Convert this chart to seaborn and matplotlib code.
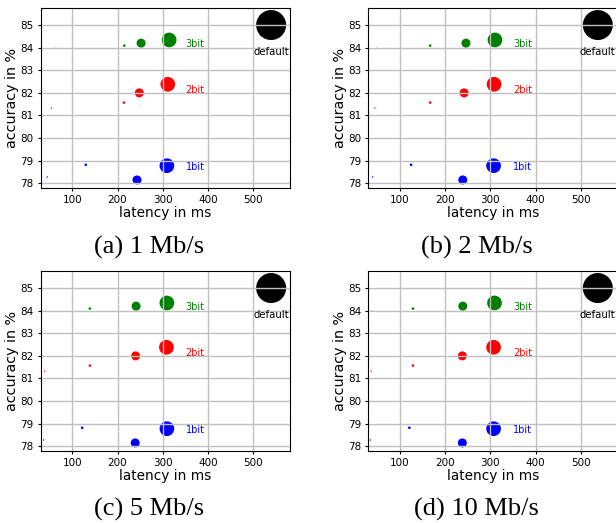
# accuracy vs latency for quantized models at four bandwidths
import numpy as np
import pandas as pd
import seaborn as sns
import matplotlib.pyplot as plt

# DATA
bits = ['1bit', '1bit', '1bit', '1bit',
        '2bit', '2bit', '2bit', '2bit',
        '3bit', '3bit', '3bit', '3bit', 'default']
level = ['tiny', 'small', 'medium', 'large'] * 3 + ['default']
accuracy = [78.28, 78.82, 78.15, 78.78,
            81.32, 81.57, 82.00, 82.38,
            83.97, 84.09, 84.20, 84.34, 85.00]

lat_1mb = [45, 130, 243, 309, 54, 214, 248, 311, 64, 215, 252, 314, 539]
lat_2mb = [40, 125, 239, 307, 45, 167, 242, 308, 49, 167, 246, 310, 537]
lat_5mb = [37, 122, 239, 309, 39, 139, 240, 308, 41, 139, 241, 309, 539]
lat_10mb = [35, 121, 238, 307, 37, 129, 238, 307, 38, 129, 239, 309, 537]

captions = ['(a) 1 Mb/s', '(b) 2 Mb/s', '(c) 5 Mb/s', '(d) 10 Mb/s']
latencies = [lat_1mb, lat_2mb, lat_5mb, lat_10mb]

bit_labels = ['1bit', '2bit', '3bit']
bit_label_y = [78.73, 82.13, 84.16]

palette = {'1bit': 'blue', '2bit': 'red', '3bit': 'green', 'default': 'black'}
sizes = {'tiny': 1.0, 'small': 3.5, 'medium': 42, 'large': 112, 'default': 467}

# FIGURE 616x523 px
fig = plt.figure(figsize=(6.16, 5.23), dpi=100)
W, H = 616, 523
boxes = [(40.7, 8.3), (368.3, 8.3), (40.7, 271.3), (368.3, 271.3)]
aw, ah = 249, 180
caption_pos = [(149, 247), (477, 247), (149, 509), (476, 509)]

for i in range(4):
    x0, y0 = boxes[i]
    ax = fig.add_axes([x0 / W, 1 - (y0 + ah) / H, aw / W, ah / H])
    df = pd.DataFrame({'latency': latencies[i], 'accuracy': accuracy,
                       'bits': bits, 'level': level})
    sns.scatterplot(data=df, x='latency', y='accuracy', hue='bits',
                    palette=palette, size='level', sizes=sizes,
                    linewidth=0, legend=False, ax=ax, zorder=1)
    ax.grid(True, color='#c0c0c0', linewidth=1.0, zorder=1.5)
    ax.set_axisbelow('line')
    ax.set_xlim(30.5, 580)
    ax.set_ylim(77.78, 85.74)
    ax.set_xticks([100, 200, 300, 400, 500])
    ax.set_yticks(np.arange(78, 86, 1))
    ax.tick_params(labelsize=7.5, length=2.5, width=0.8, pad=2.5)
    ax.set_xlabel('latency in ms', fontsize=9.8, labelpad=0.5)
    ax.set_ylabel('accuracy in %', fontsize=10.3, labelpad=1)
    for lab, yv in zip(bit_labels, bit_label_y):
        ax.text(350, yv, lab, color=palette[lab], fontsize=7,
                ha='left', va='center')
    ax.text(latencies[i][-1], 83.82, 'default', color='black', fontsize=7.3,
            ha='center', va='center')
    cx, cy = caption_pos[i]
    fig.text(cx / W, 1 - cy / H, captions[i], family='Liberation Serif',
             fontsize=19, ha='center', va='center')

fig.savefig('out.png', dpi=100)
